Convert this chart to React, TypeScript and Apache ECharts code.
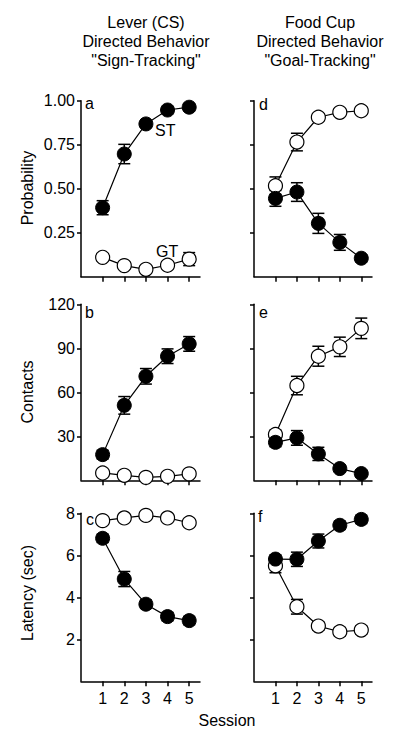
import React, { useEffect, useRef } from "react";
import * as echarts from "echarts";

const sessions = [1, 2, 3, 4, 5];

// Panel a: Lever probability
const aFilled = [0.392, 0.697, 0.868, 0.947, 0.963];
const aFilledErr = [0.04, 0.055, 0.02, 0.02, 0.02];
const aOpen = [0.11, 0.063, 0.042, 0.065, 0.1];
const aOpenErr = [0.02, 0.02, 0.02, 0.02, 0.037];

// Panel d: Food cup probability
const dOpen = [0.517, 0.765, 0.906, 0.934, 0.943];
const dOpenErr = [0.05, 0.05, 0.02, 0.02, 0.02];
const dFilled = [0.445, 0.481, 0.303, 0.195, 0.105];
const dFilledErr = [0.045, 0.053, 0.057, 0.045, 0.02];

// Panel b: Lever contacts
const bFilled = [17.5, 51.1, 70.9, 84.6, 93];
const bFilledErr = [3, 6, 5.3, 5, 5];
const bOpen = [5.0, 3.4, 2.0, 2.7, 4.4];
const bOpenErr = [1, 1, 1, 1, 1];

// Panel e: Food cup contacts
const eOpen = [31.2, 64.6, 84.6, 91, 103.6];
const eOpenErr = [3, 6.3, 6.8, 6.6, 7];
const eFilled = [25.9, 28.9, 18, 8, 4.6];
const eFilledErr = [3, 5, 4.5, 2, 2];

// Panel c: Lever latency
const cOpen = [7.65, 7.78, 7.9, 7.78, 7.55];
const cOpenErr = [0.1, 0.1, 0.1, 0.1, 0.1];
const cFilled = [6.81, 4.87, 3.67, 3.08, 2.89];
const cFilledErr = [0.2, 0.36, 0.2, 0.2, 0.2];

// Panel f: Food cup latency
const fFilled = [5.82, 5.81, 6.68, 7.43, 7.71];
const fFilledErr = [0.2, 0.34, 0.33, 0.2, 0.2];
const fOpen = [5.5, 3.55, 2.63, 2.36, 2.44];
const fOpenErr = [0.33, 0.35, 0.2, 0.2, 0.2];

const probTicks = [0.25, 0.5, 0.75, 1.0];
const contactTicks = [30, 60, 90, 120];
const latencyTicks = [2, 4, 6, 8];

const FONT = '"Liberation Sans", Arial, Helvetica, sans-serif';

export default function App() {
  const ref = useRef<HTMLDivElement>(null);

  useEffect(() => {
    if (!ref.current) return;
    const chart = echarts.init(ref.current, null, { renderer: "svg" });

    const cols = [
      { left: 81, width: 119 },
      { left: 254, width: 118 },
    ];
    const rows = [
      { top: 100.7, height: 176 },
      { top: 304.3, height: 176 },
      { top: 513.3, height: 168 },
    ];

    const panels = [
      { row: 0, col: 0, max: 1, ticks: probTicks, fmt: (v: number) => v.toFixed(2), open: aOpen, openErr: aOpenErr, filled: aFilled, filledErr: aFilledErr },
      { row: 0, col: 1, max: 1, ticks: probTicks, fmt: null, open: dOpen, openErr: dOpenErr, filled: dFilled, filledErr: dFilledErr },
      { row: 1, col: 0, max: 120, ticks: contactTicks, fmt: (v: number) => String(v), open: bOpen, openErr: bOpenErr, filled: bFilled, filledErr: bFilledErr },
      { row: 1, col: 1, max: 120, ticks: contactTicks, fmt: null, open: eOpen, openErr: eOpenErr, filled: eFilled, filledErr: eFilledErr },
      { row: 2, col: 0, max: 8, ticks: latencyTicks, fmt: (v: number) => String(v), open: cOpen, openErr: cOpenErr, filled: cFilled, filledErr: cFilledErr },
      { row: 2, col: 1, max: 8, ticks: latencyTicks, fmt: null, open: fOpen, openErr: fOpenErr, filled: fFilled, filledErr: fFilledErr },
    ];

    const axisLine = { show: true, lineStyle: { color: "#000", width: 1.5 } };

    const grid: any[] = [];
    const xAxis: any[] = [];
    const yAxis: any[] = [];
    const series: any[] = [];

    const renderErr = (params: any, api: any) => {
      const x = api.value(0);
      const y = api.value(1);
      const e = api.value(2);
      const t = api.coord([x, y + e]);
      const b = api.coord([x, y - e]);
      const st = { stroke: "#000", lineWidth: 1.5 };
      const cap = 6;
      return {
        type: "group",
        children: [
          { type: "line", shape: { x1: t[0], y1: t[1], x2: b[0], y2: b[1] }, style: st },
          { type: "line", shape: { x1: t[0] - cap, y1: t[1], x2: t[0] + cap, y2: t[1] }, style: st },
          { type: "line", shape: { x1: b[0] - cap, y1: b[1], x2: b[0] + cap, y2: b[1] }, style: st },
        ],
      };
    };

    panels.forEach((p, i) => {
      grid.push({ left: cols[p.col].left, width: cols[p.col].width, top: rows[p.row].top, height: rows[p.row].height });
      const showX = p.row === 2;
      xAxis.push({
        type: "value",
        gridIndex: i,
        min: 0,
        max: 5.5,
        axisLine,
        splitLine: { show: false },
        axisTick: { show: true, length: 5, lineStyle: { color: "#000", width: 1.5 }, customValues: sessions },
        axisLabel: {
          show: showX,
          customValues: sessions,
          margin: 9,
          color: "#000",
          fontSize: 16,
          fontFamily: FONT,
        },
      });
      yAxis.push({
        type: "value",
        gridIndex: i,
        min: 0,
        max: p.max,
        axisLine,
        splitLine: { show: false },
        axisTick: { show: true, length: 4, lineStyle: { color: "#000", width: 1.5 }, customValues: p.ticks },
        axisLabel: {
          show: !!p.fmt,
          customValues: p.ticks,
          margin: 6,
          color: "#000",
          fontSize: 16,
          fontFamily: FONT,
          formatter: p.fmt ? (v: number) => p.fmt!(v) : undefined,
        },
      });
      const mk = (vals: number[], errs: number[]) => sessions.map((s, k) => [s, vals[k], errs[k]]);
      series.push({
        type: "custom",
        xAxisIndex: i,
        yAxisIndex: i,
        renderItem: renderErr,
        data: mk(p.open, p.openErr),
        encode: { x: 0, y: 1 },
        z: 1,
        silent: true,
      });
      series.push({
        type: "custom",
        xAxisIndex: i,
        yAxisIndex: i,
        renderItem: renderErr,
        data: mk(p.filled, p.filledErr),
        encode: { x: 0, y: 1 },
        z: 1,
        silent: true,
      });
      series.push({
        type: "line",
        xAxisIndex: i,
        yAxisIndex: i,
        data: sessions.map((s, k) => [s, p.open[k]]),
        symbol: "circle",
        symbolSize: 14,
        showAllSymbol: true,
        lineStyle: { color: "#000", width: 1.2 },
        itemStyle: { color: "#fff", borderColor: "#000", borderWidth: 1.2 },
        z: 3,
        silent: true,
      });
      series.push({
        type: "line",
        xAxisIndex: i,
        yAxisIndex: i,
        data: sessions.map((s, k) => [s, p.filled[k]]),
        symbol: "circle",
        symbolSize: 14,
        showAllSymbol: true,
        lineStyle: { color: "#000", width: 1.2 },
        itemStyle: { color: "#000", borderColor: "#000", borderWidth: 1 },
        z: 4,
        silent: true,
      });
    });

    const txt = (text: string, x: number, y: number, align = "center", rotation = 0) => ({
      type: "text",
      x,
      y,
      rotation,
      z: 10,
      style: {
        text,
        fill: "#000",
        font: `16px ${FONT}`,
        align,
        verticalAlign: "middle",
        textAlign: align,
        textVerticalAlign: "middle",
      },
    });

    const graphic = [
      txt("Lever (CS)", 146, 22),
      txt("Directed Behavior", 146, 41),
      txt('"Sign-Tracking"', 146, 60),
      txt("Food Cup", 320, 22),
      txt("Directed Behavior", 320, 41),
      txt('"Goal-Tracking"', 320, 60),
      txt("a", 85, 103, "left"),
      txt("ST", 155, 130, "left"),
      txt("GT", 156, 251, "left"),
      txt("d", 259, 104, "left"),
      txt("b", 85, 312, "left"),
      txt("e", 259, 312, "left"),
      txt("c", 86, 519, "left"),
      txt("f", 258, 516, "left"),
      txt("Probability", 27, 188, "center", Math.PI / 2),
      txt("Contacts", 27, 392, "center", Math.PI / 2),
      txt("Latency (sec)", 27, 593, "center", Math.PI / 2),
      txt("Session", 227, 720),
    ];

    chart.setOption({
      animation: false,
      backgroundColor: "#fff",
      grid,
      xAxis,
      yAxis,
      series,
      graphic,
    });

    return () => chart.dispose();
  }, []);

  return <div ref={ref} style={{ position: "fixed", left: 0, top: 0, width: 400, height: 740 }} />;
}
